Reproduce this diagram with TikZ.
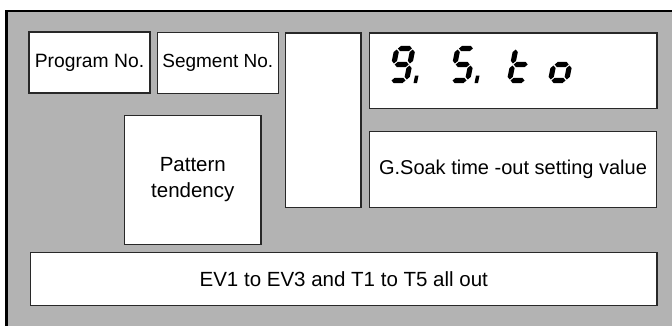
\documentclass[tikz,border=0pt]{standalone}
\usepackage{fontspec}
\setmainfont{Liberation Sans}
\definecolor{panel}{RGB}{179,179,179}
\definecolor{edge}{RGB}{40,40,40}
\newcommand\hsg[3]{\fill ({#1},{#3}) -- ({#1+2.6},{#3+2.6}) -- ({#2-2.6},{#3+2.6}) -- ({#2},{#3}) -- ({#2-2.6},{#3-2.6}) -- ({#1+2.6},{#3-2.6}) -- cycle;}
\newcommand\vsg[3]{\fill ({#1},{#2}) -- ({#1+2.6},{#2+2.6}) -- ({#1+2.6},{#3-2.6}) -- ({#1},{#3}) -- ({#1-2.6},{#3-2.6}) -- ({#1-2.6},{#2+2.6}) -- cycle;}
\newcommand\segA{\hsg{1}{15}{32}}
\newcommand\segG{\hsg{1}{15}{16}}
\newcommand\segD{\hsg{1}{15}{0}}
\newcommand\segF{\vsg{0}{17}{31}}
\newcommand\segB{\vsg{16}{17}{31}}
\newcommand\segE{\vsg{0}{1}{15}}
\newcommand\segC{\vsg{16}{1}{15}}
\newcommand\segDP{\fill (23.5,-2.5) -- (27,-2.5) -- (27,5) -- (23.5,5) -- cycle;}
\tikzset{
  box/.style={draw=edge, line width=1.2pt, fill=white, inner sep=0pt, align=center},
  digit/.style={yscale=-1, xslant=-0.2}
}
\begin{document}
\begin{tikzpicture}[x=1pt,y=-1pt]
\useasboundingbox (0,0) rectangle (672,325);
\clip (0,0) rectangle (672,325);
\draw[line width=2.8pt, fill=panel] (6.5,11) rectangle (690,340);
\node[box, minimum width=121pt, minimum height=61pt, font=\fontsize{19.3}{22}\selectfont] (prog) at (89.5,62.5) {Program No.};
\node[box, minimum width=121pt, minimum height=61pt, font=\fontsize{19}{22}\selectfont] (seg) at (217.8,62.8) {Segment No.};
\node[box, minimum width=75.3pt, minimum height=174.3pt] (tall) at (323.3,120.2) {};
\node[box, minimum width=287.5pt, minimum height=75.7pt] (disp) at (513.2,70.8) {};
\node[box, minimum width=136.3pt, minimum height=128.6pt, font=\fontsize{20.5}{26}\selectfont] (pat) at (192.8,180) {Pattern\\tendency};
\node[box, minimum width=287.4pt, minimum height=75.6pt, font=\fontsize{20}{24}\selectfont] (gsoak) at (513,169.5) {G.Soak time -out setting value};
\node[box, minimum width=626.3pt, minimum height=53pt, font=\fontsize{20.5}{24}\selectfont] (bot) at (343.8,278.8) {EV1 to EV3 and T1 to T5 all out};
% seven-segment text "9. 5. t o"
\begin{scope}[shift={(390.5,80.5)}, digit]
  \segA \segB \segC \segD \segF \segG \segDP
\end{scope}
\begin{scope}[shift={(451.5,80.5)}, digit]
  \segA \segC \segD \segF \segG \segDP
\end{scope}
\begin{scope}[shift={(509.5,80.5)}, digit]
  \segD \segE \segF \segG
\end{scope}
\begin{scope}[shift={(550.5,80.5)}, digit]
  \segC \segD \segE \segG
\end{scope}
\end{tikzpicture}
\end{document}
